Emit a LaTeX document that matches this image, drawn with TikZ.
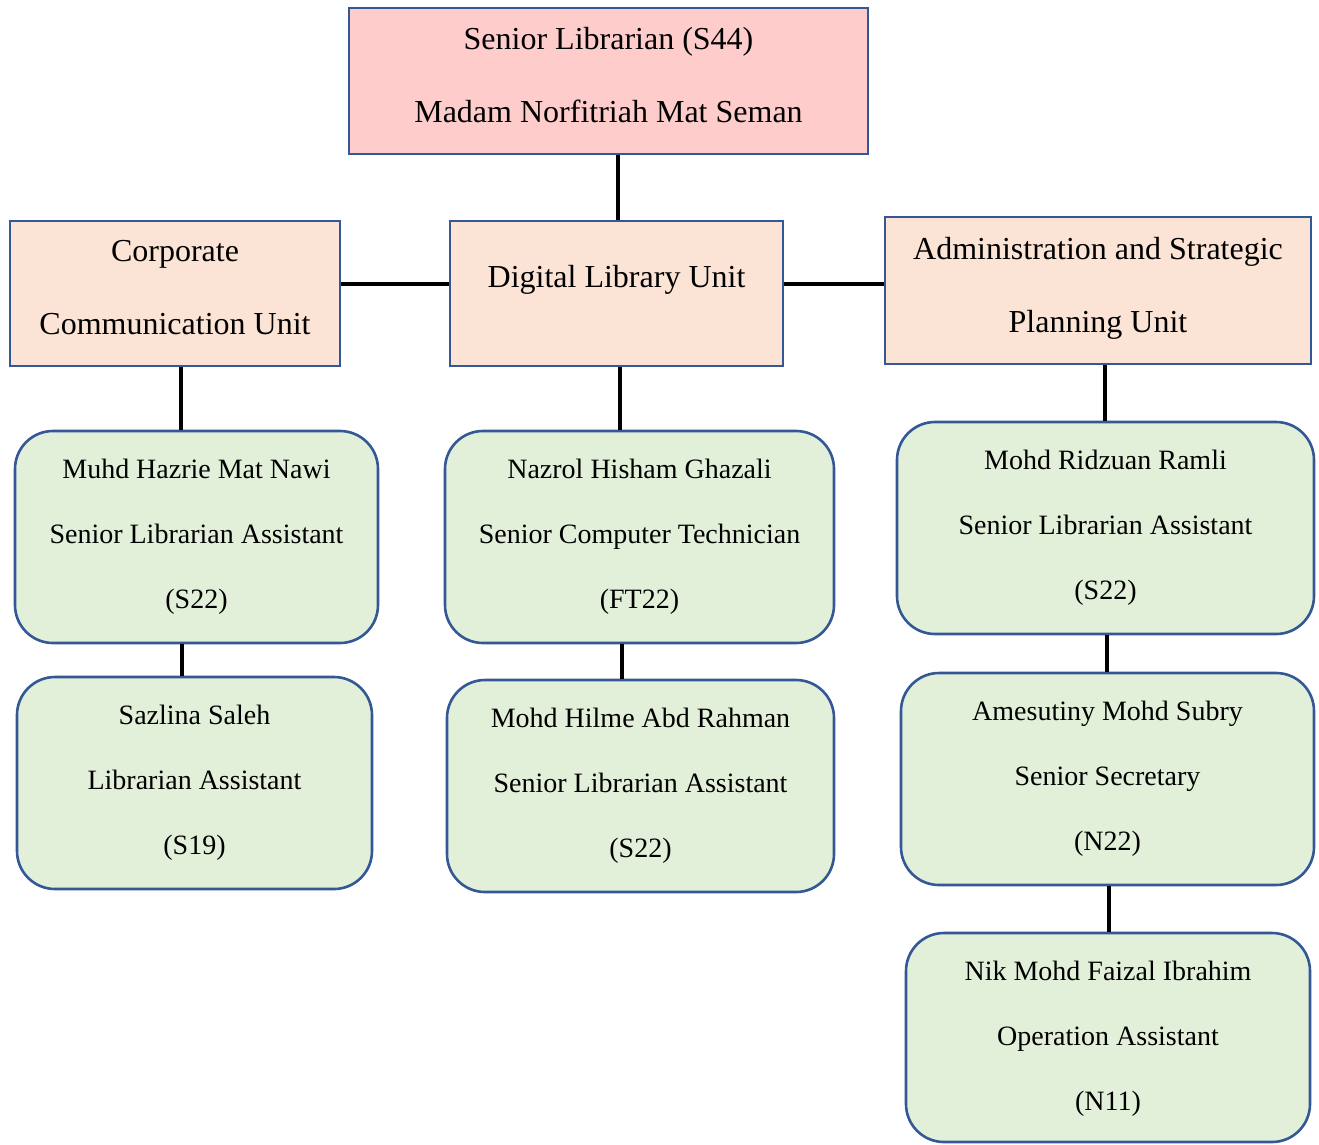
\documentclass[tikz,border=0pt]{standalone}
\usepackage{fontspec}
\setmainfont{Liberation Serif}
\definecolor{bordblue}{RGB}{52,88,150}
\definecolor{pinkfill}{RGB}{255,204,204}
\definecolor{peachfill}{RGB}{251,228,213}
\definecolor{greenfill}{RGB}{226,239,217}
\begin{document}
\begin{tikzpicture}[x=1pt,y=-1pt,
  unitbox/.style={draw=bordblue,line width=2.6pt,fill=peachfill,inner sep=0pt},
  headbox/.style={unitbox,fill=pinkfill},
  personbox/.style={draw=bordblue,line width=2.6pt,fill=greenfill,rounded corners=38pt,inner sep=0pt},
  unittext/.style={align=center,font=\fontsize{32}{73}\selectfont,inner sep=0pt},
  persontext/.style={align=center,font=\fontsize{28}{65}\selectfont,inner sep=0pt},
  link/.style={line width=3.6pt,black}]
\useasboundingbox (0,0) rectangle (1319,1144);
% boxes
\node[headbox,minimum width=519pt,minimum height=146pt] (top) at (608.5,81) {};
\node[unittext] (toptext) at ([yshift=5.5pt]top.center) {Senior Librarian (S44)\\Madam Norfitriah Mat Seman};
\node[unitbox,minimum width=330pt,minimum height=145pt] (corp) at (175,293.5) {};
\node[unittext] (corptext) at ([yshift=5.5pt]corp.center) {Corporate\\Communication Unit};
\node[unitbox,minimum width=333pt,minimum height=145pt] (dig) at (616.5,293.5) {};
\node[unittext] (digtext) at ([yshift=13.5pt]dig.center) {Digital Library Unit};
\node[unitbox,minimum width=426pt,minimum height=147pt] (admin) at (1098,290.5) {};
\node[unittext] (admintext) at ([yshift=2.5pt]admin.center) {Administration and Strategic\\Planning Unit};
% person boxes
\node[personbox,minimum width=363pt,minimum height=212pt] (muhd) at (196.5,537) {};
\node[persontext] (muhdtext) at (muhd.center) {Muhd Hazrie Mat Nawi\\Senior Librarian Assistant\\(S22)};
\node[personbox,minimum width=355pt,minimum height=212pt] (saz) at (194.5,783) {};
\node[persontext] (saztext) at (saz.center) {Sazlina Saleh\\Librarian Assistant\\(S19)};
\node[personbox,minimum width=389pt,minimum height=212pt] (naz) at (639.5,537) {};
\node[persontext] (naztext) at (naz.center) {Nazrol Hisham Ghazali\\Senior Computer Technician\\(FT22)};
\node[personbox,minimum width=387pt,minimum height=212pt] (hil) at (640.5,786) {};
\node[persontext] (hiltext) at (hil.center) {Mohd Hilme Abd Rahman\\Senior Librarian Assistant\\(S22)};
\node[personbox,minimum width=417pt,minimum height=212pt] (rid) at (1105.5,528) {};
\node[persontext] (ridtext) at (rid.center) {Mohd Ridzuan Ramli\\Senior Librarian Assistant\\(S22)};
\node[personbox,minimum width=413pt,minimum height=212pt] (ame) at (1107.5,779) {};
\node[persontext] (ametext) at (ame.center) {Amesutiny Mohd Subry\\Senior Secretary\\(N22)};
\node[personbox,minimum width=404pt,minimum height=209pt] (nik) at (1108,1037.5) {};
\node[persontext] (niktext) at ([yshift=-1.5pt]nik.center) {Nik Mohd Faizal Ibrahim\\Operation Assistant\\(N11)};
% connectors
\draw[link] ([xshift=9.5pt]top.south) -- ([xshift=9.5pt]top.south |- dig.north);
\draw[link] ([yshift=9.5pt]corp.east) -- ([yshift=9.5pt]corp.east -| dig.west);
\draw[link] ([yshift=9.5pt]dig.east) -- ([yshift=9.5pt]dig.east -| admin.west);
\draw[link] ([xshift=6pt]corp.south) -- ([xshift=6pt]corp.south |- muhd.north);
\draw[link] ([xshift=-14.5pt]muhd.south) -- ([xshift=-14.5pt]muhd.south |- saz.north);
\draw[link] ([xshift=3.5pt]dig.south) -- ([xshift=3.5pt]dig.south |- naz.north);
\draw[link] ([xshift=-17.5pt]naz.south) -- ([xshift=-17.5pt]naz.south |- hil.north);
\draw[link] ([xshift=7pt]admin.south) -- ([xshift=7pt]admin.south |- rid.north);
\draw[link] ([xshift=1.5pt]rid.south) -- ([xshift=1.5pt]rid.south |- ame.north);
\draw[link] ([xshift=1.5pt]ame.south) -- ([xshift=1.5pt]ame.south |- nik.north);
\end{tikzpicture}
\end{document}
